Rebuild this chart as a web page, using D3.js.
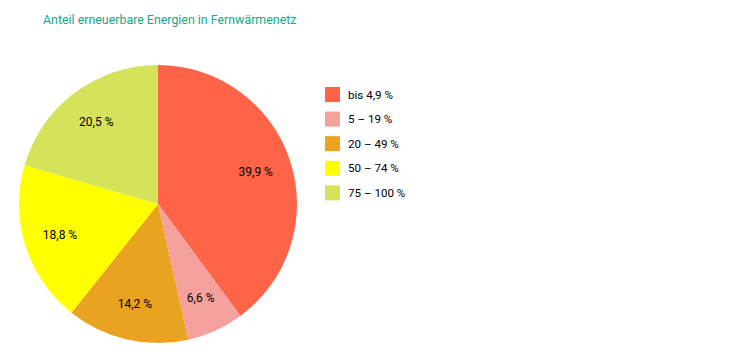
<!DOCTYPE html>
<html><head><meta charset="utf-8">
<script src="https://cdn.jsdelivr.net/npm/d3@7"></script>
<style>body{margin:0;background:#fff;}svg{display:block;font-family:Roboto,"Liberation Sans",sans-serif;}</style>
</head><body><svg id="c" width="731" height="358"></svg>
<script>
const categories = ["bis 4,9 %", "5 – 19 %", "20 – 49 %", "50 – 74 %", "75 – 100 %"];
const values = [39.9, 6.6, 14.2, 18.8, 20.5];
const colors = ["#ff6449", "#f4a09c", "#e9a321", "#ffff00", "#d5e35a"];
const title = "Anteil erneuerbare Energien in Fernwärmenetz";

const svg = d3.select("#c");
const cx = 158, cy = 204, R = 139;

svg.append("text").attr("x", 43).attr("y", 24).attr("fill", "#14a98a")
  .attr("font-size", 12.4).text(title);

const data = categories.map((c, i) => ({cat: c, value: values[i], color: colors[i]}));
const pie = d3.pie().value(d => d.value).sort(null);
const arcs = pie(data);
const arc = d3.arc().innerRadius(0).outerRadius(R);
const labelArc = d3.arc().innerRadius(R * 0.74).outerRadius(R * 0.74);

const g = svg.append("g").attr("transform", `translate(${cx},${cy})`);
g.selectAll("path").data(arcs).join("path").attr("d", arc).attr("fill", d => d.data.color);
g.selectAll("text").data(arcs).join("text")
  .attr("transform", d => `translate(${labelArc.centroid(d)})`)
  .attr("text-anchor", "middle").attr("dy", "0.35em")
  .attr("font-size", 12).attr("fill", "#000")
  .text(d => d.data.value.toFixed(1).replace(".", ",") + " %");

const y = d3.scaleBand().domain(categories).range([87, 87 + 24.6 * categories.length]);
const leg = svg.append("g");
leg.selectAll("rect").data(data).join("rect")
  .attr("x", 325).attr("y", d => y(d.cat)).attr("width", 15).attr("height", 15)
  .attr("fill", d => d.color);
leg.selectAll("text").data(data).join("text")
  .attr("x", 348).attr("y", d => y(d.cat) + 7.5).attr("dy", "0.35em")
  .attr("font-size", 11.6).attr("fill", "#000").text(d => d.cat);
</script></body></html>
